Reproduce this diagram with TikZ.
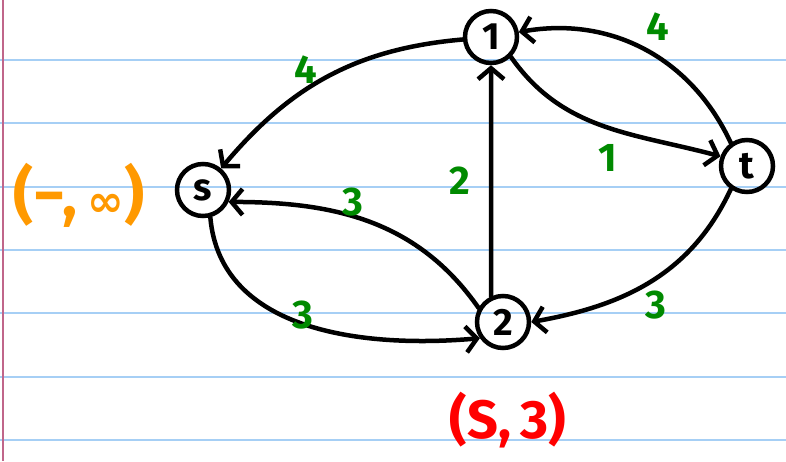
\documentclass[tikz,border=0pt]{standalone}
\usepackage{fontspec}
\setmainfont{Fira Sans}
\newfontfamily\symfont{DejaVu Sans}
\usetikzlibrary{arrows.meta}
\definecolor{hgreen}{HTML}{008A00}
\definecolor{horange}{HTML}{FF9900}
\definecolor{hred}{HTML}{FF0000}
\definecolor{ruleblue}{HTML}{A6CFF5}
\definecolor{marginpink}{HTML}{C0668A}

\begin{document}
\begin{tikzpicture}[x=1pt, y=-1pt,
    vertex/.style={circle, draw, line width=4.5pt, minimum size=52pt, inner sep=0pt,
                   font=\fontsize{38}{38}\selectfont\bfseries},
    flow/.style={line width=4.5pt, line cap=round, line join=round,
                 -{Straight Barb[length=11pt, width=26pt]}},
    weight/.style={text=hgreen, font=\fontsize{40}{40}\selectfont\bfseries},
    tag/.style={font=\fontsize{54}{54}\selectfont\bfseries}]

    % paper
    \fill[white] (0,0) rectangle (786,461);
    \useasboundingbox (0,0) rectangle (786,461);
    \foreach \y in {60,123,187,250,313,377,440}
      \draw[ruleblue, line width=2pt] (0,\y) -- (786,\y);
    \draw[marginpink, line width=2pt] (3,0) -- (3,461);

    % --- vertices --------------------------------------------------------
    \node[vertex] (s)  at (203,190) {s};
    \node[vertex] (n1) at (491,37)  {1};
    \node[vertex] (t)  at (747,166) {t};
    \node[vertex] (n2) at (503,322) {2};

    % --- arcs ------------------------------------------------------------
    \draw[flow] (n1) to[out=185, in=50] (s);
    \draw[flow] (t.125) to[out=115, in=10] (n1.10);
    \draw[flow] (n1.-45) to[out=-55, in=165] (t.160);
    \draw[flow] (n2.115) -- (n1.south);
    \draw[flow] (n2.150) to[out=125, in=0] (s.-25);
    \draw[flow] (s.-75) to[out=-85, in=185] (n2.215);
    \draw[flow] (t.-125) to[out=-115, in=10] (n2.east);

    % capacities
    \node[weight] (w1s) at (306,70)  {4};
    \node[weight] (wt1) at (658,27)  {4};
    \node[weight] (w1t) at (608,158) {1};
    \node[weight] (w21) at (460,181) {2};
    \node[weight] (w2s) at (353,202) {3};
    \node[weight] (ws2) at (303,315) {3};
    \node[weight] (wt2) at (656,305) {3};

    % labels
    \node[tag, text=horange, font=\fontsize{62}{62}\selectfont\bfseries] (ls) at (79,195)
      {(−,\,{\symfont\fontsize{44}{44}\selectfont ∞})};
    \node[tag, text=hred] (l2) at (508,420) {(S,\,3)};
\end{tikzpicture}
\end{document}
